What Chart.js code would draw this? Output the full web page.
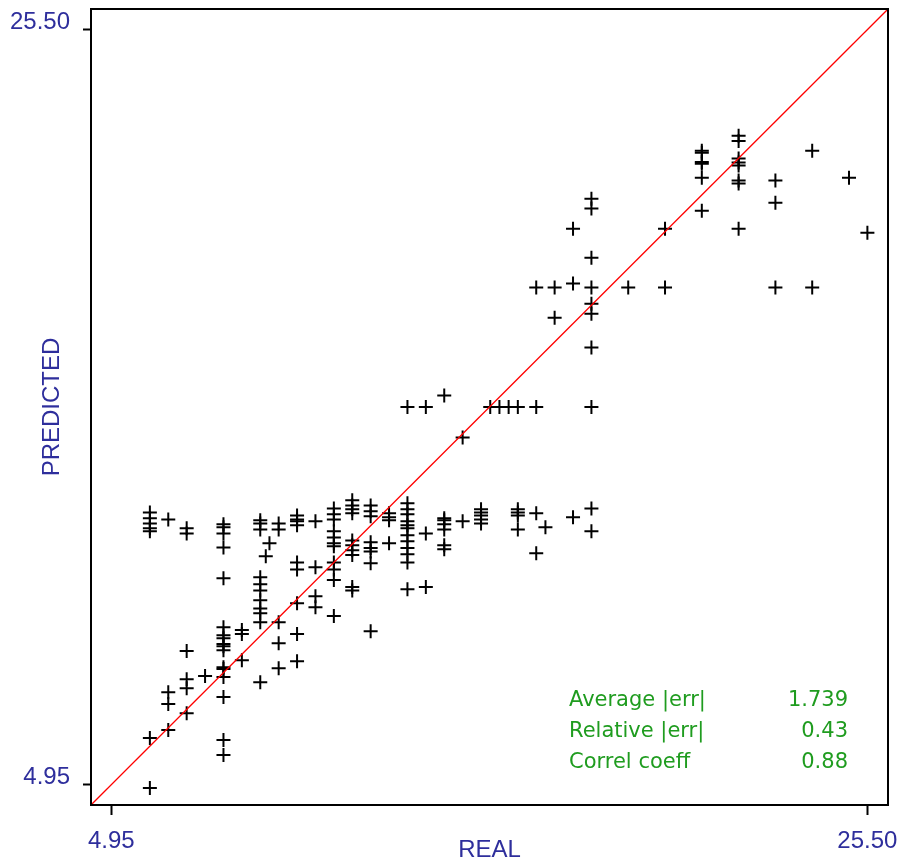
<!DOCTYPE html>
<html>
<head>
<meta charset="utf-8">
<title>REAL vs PREDICTED</title>
<script src="https://cdn.jsdelivr.net/npm/chart.js@4.4.1/dist/chart.umd.min.js"></script>
<style>
  html, body { margin: 0; padding: 0; background: #fff; }
  #wrap { width: 900px; height: 865px; }
</style>
</head>
<body>
<div id="wrap"><canvas id="scatterChart" width="900" height="865"></canvas></div>
<script>
// --- Data: real value (x) per column, predicted values (y) per column ---
const realValues = [6.0, 6.5, 7.0, 7.5, 8.0, 8.5, 9.0, 9.15, 9.25, 9.5, 10.0, 10.5, 11.0, 11.5, 12.0, 12.5,
  13.0, 13.5, 14.0, 14.5, 15.0, 15.25, 15.5, 15.75, 16.0, 16.5, 16.75, 17.0, 17.5, 18.0, 19.0, 20.0,
  21.0, 22.0, 23.0, 24.0, 25.0, 25.5];

const predictedValues = [
  [12.36, 12.20, 12.06, 11.93, 11.85, 6.22, 4.86],
  [12.17, 7.47, 7.15, 6.44],
  [11.93, 11.79, 8.59, 7.82, 7.58, 6.90],
  [7.91],
  [12.04, 11.96, 11.79, 11.41, 10.57, 9.24, 9.02, 8.94, 8.78, 8.72, 8.61, 8.15, 8.10, 7.88, 7.34, 6.17, 5.76],
  [9.16, 9.05, 8.34],
  [12.15, 12.06, 11.90, 10.60, 10.41, 10.24, 9.97, 9.75, 9.62, 9.37, 7.74],
  [11.17],
  [11.52],
  [12.06, 11.90, 9.37, 8.80, 8.12],
  [12.28, 12.17, 12.12, 12.01, 11.00, 10.81, 9.89, 9.05, 8.31],
  [12.12, 10.87, 10.08, 9.78],
  [12.47, 12.31, 12.17, 11.85, 11.68, 11.52, 11.44, 11.00, 10.81, 10.52, 9.54],
  [12.69, 12.55, 12.45, 12.34, 11.60, 11.47, 11.33, 11.20, 10.33, 10.24],
  [12.55, 12.39, 12.26, 11.55, 11.39, 11.30, 10.98, 9.13],
  [12.34, 12.23, 12.15, 11.52],
  [15.23, 12.61, 12.45, 12.31, 12.12, 12.01, 11.93, 11.74, 11.58, 11.39, 11.22, 11.00, 10.27],
  [15.23, 11.79, 10.33],
  [15.54, 12.20, 12.15, 12.04, 11.90, 11.47, 11.36],
  [14.40, 12.12],
  [12.45, 12.36, 12.28, 12.17, 12.06],
  [15.23],
  [15.23],
  [15.23],
  [15.23, 12.45, 12.36, 12.28, 11.90],
  [18.48, 15.23, 12.34, 11.25],
  [11.96],
  [18.48, 17.66],
  [20.08, 18.59, 12.23],
  [20.90, 20.63, 19.29, 18.48, 18.04, 17.77, 16.85, 15.23, 12.47, 11.85],
  [18.48],
  [20.08, 18.48],
  [22.20, 22.15, 21.90, 21.85, 21.47, 20.57],
  [22.61, 22.47, 21.99, 21.88, 21.80, 21.39, 21.31, 20.08],
  [21.39, 20.79, 18.48],
  [22.20, 18.48],
  [21.47],
  [19.97]
];

// axis range and the two labelled ticks
const axisMin = 4.40;
const axisMax = 26.06;
const tickValues = [4.95, 25.50];

// statistics box
const statLabels = ["Average |err|", "Relative |err|", "Correl coeff"];
const statValues = ["1.739", "0.43", "0.88"];

const NAVY = "#2e2e9c";
const GREEN = "#1f9c1f";
const FONT = "'Liberation Sans', Arial, sans-serif";
const STAT_FONT = "'DejaVu Sans', sans-serif";

// --- build points ---
const points = [];
realValues.forEach((x, i) => {
  predictedValues[i].forEach(y => points.push({ x: x, y: y }));
});
const diagonal = [{ x: axisMin, y: axisMin }, { x: axisMax, y: axisMax }];

// --- frame + stats text plugin ---
const framePlugin = {
  id: "frameAndStats",
  afterDatasetsDraw(chart) {
    const { ctx, chartArea } = chart;
    ctx.save();
    ctx.strokeStyle = "#000";
    ctx.lineWidth = 2;
    ctx.strokeRect(chartArea.left, chartArea.top, chartArea.right - chartArea.left, chartArea.bottom - chartArea.top);

    ctx.fillStyle = GREEN;
    ctx.font = "21px " + STAT_FONT;
    ctx.textBaseline = "middle";
    statLabels.forEach((lbl, i) => {
      const yy = chartArea.bottom - 104 + i * 31;
      ctx.textAlign = "left";
      ctx.fillText(lbl, chartArea.left + 478, yy);
      ctx.textAlign = "right";
      ctx.fillText(statValues[i], chartArea.right - 40, yy);
    });
    ctx.restore();
  }
};

function fixTicks(scale) {
  scale.ticks = tickValues.map(v => ({ value: v }));
}

const ctx = document.getElementById("scatterChart").getContext("2d");
new Chart(ctx, {
  type: "scatter",
  data: {
    datasets: [
      {
        type: "line",
        data: diagonal,
        borderColor: "#ff0000",
        borderWidth: 1.3,
        pointRadius: 0,
        fill: false
      },
      {
        data: points,
        pointStyle: "cross",
        pointRadius: 7,
        pointBorderColor: "#000",
        pointBorderWidth: 2,
        borderColor: "#000",
        backgroundColor: "#000"
      }
    ]
  },
  options: {
    responsive: false,
    animation: false,
    layout: { padding: { top: 9, right: 12, left: 0, bottom: 0 } },
    plugins: {
      legend: { display: false },
      tooltip: { enabled: false }
    },
    scales: {
      x: {
        type: "linear",
        min: axisMin,
        max: axisMax,
        afterBuildTicks: fixTicks,
        afterFit: s => { s.height = 60; s.paddingLeft = 0; s.paddingRight = 0; },
        grid: { drawOnChartArea: false, drawTicks: true, tickLength: 10, tickWidth: 2, tickColor: "#000" },
        border: { display: true, color: "#000", width: 2 },
        ticks: {
          color: NAVY,
          font: { family: FONT, size: 24 },
          padding: 12,
          maxRotation: 0,
          callback: v => Number(v).toFixed(2)
        },
        title: {
          display: true,
          text: "REAL",
          color: NAVY,
          font: { family: FONT, size: 24 },
          padding: { top: 0, bottom: 0 }
        }
      },
      y: {
        type: "linear",
        min: axisMin,
        max: axisMax,
        afterBuildTicks: fixTicks,
        afterFit: s => { s.width = 91; s.paddingTop = 0; s.paddingBottom = 0; },
        grid: { drawOnChartArea: false, drawTicks: true, tickLength: 8, tickWidth: 2, tickColor: "#000" },
        border: { display: true, color: "#000", width: 2 },
        ticks: {
          color: NAVY,
          font: { family: FONT, size: 24 },
          padding: 13,
          labelOffset: -7,
          callback: v => Number(v).toFixed(2)
        },
        title: {
          display: true,
          text: "PREDICTED",
          color: NAVY,
          font: { family: FONT, size: 24 },
          padding: { top: 38, bottom: 0 }
        }
      }
    }
  },
  plugins: [framePlugin]
});
</script>
</body>
</html>
